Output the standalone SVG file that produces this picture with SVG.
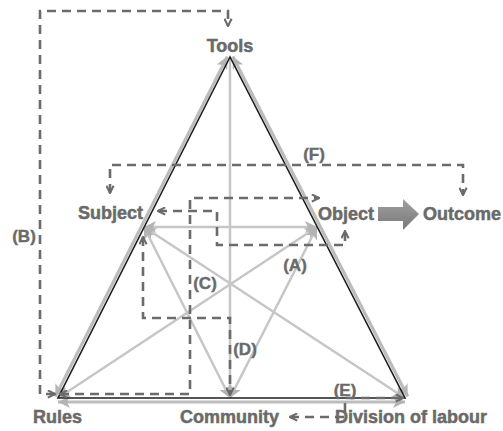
<svg xmlns="http://www.w3.org/2000/svg" width="503" height="431" viewBox="0 0 503 431">
<style>
.lbl{font-family:"Liberation Sans",Arial,sans-serif;font-weight:bold;font-size:18px;fill:#6a6a6a;stroke:#6a6a6a;stroke-width:0.5}
.tag{font-family:"Liberation Sans",Arial,sans-serif;font-weight:bold;font-size:17px;fill:#6a6a6a;stroke:#6a6a6a;stroke-width:0.4;text-anchor:middle}
.tri{stroke:#1e1e1e;stroke-width:1.6;fill:none}
.side{stroke:#bcbcbc;stroke-width:3.2;fill:none;marker-start:url(#ga);marker-end:url(#ga)}
.inner{stroke:#c6c6c6;stroke-width:2.5;fill:none}
.both{marker-start:url(#ga);marker-end:url(#ga)}
.dash{stroke:#6b6b6b;stroke-width:2.6;fill:none;stroke-dasharray:9 6;marker-start:url(#da);marker-end:url(#da)}
</style>
<defs>
<marker id="ga" viewBox="0 0 10 10" refX="10" refY="5" markerWidth="12" markerHeight="12" markerUnits="userSpaceOnUse" orient="auto-start-reverse"><path d="M0,0 L10,5 L0,10 L2.5,5 z" fill="#b4b4b4"/></marker>
<marker id="da" viewBox="0 0 10 10" refX="9" refY="5" markerWidth="9" markerHeight="9" markerUnits="userSpaceOnUse" orient="auto-start-reverse"><path d="M1,1 L9,5 L1,9" fill="none" stroke="#6b6b6b" stroke-width="2.3"/></marker>
<linearGradient id="og" x1="0" y1="0" x2="0" y2="1"><stop offset="0" stop-color="#a0a0a0"/><stop offset="1" stop-color="#787878"/></linearGradient>
</defs>
<g id="connectors">
<path class="side" d="M227.3,56.6 L55.3,396.6"/>
<path class="side" d="M232.7,56.6 L407.7,396.6"/>
<path class="side" d="M58,402 H405"/>
<path class="inner" d="M230,58 V398" marker-end="url(#ga)"/>
<path class="inner both" d="M144,227 H317"/>
<path class="inner both" d="M144,227 L230,398"/>
<path class="inner both" d="M144,227 L405,398"/>
<path class="inner both" d="M317,227 L58,398"/>
<path class="inner both" d="M317,227 L230,398"/>
<path class="tri" d="M230,57 L58,398 H405 Z"/>
<path class="dash" d="M55,394 H40 V11 H228 V26"/>
<path class="dash" d="M110,193 V165 H463 V195"/>
<path class="dash" d="M60,394 H190 V198 H319"/>
<path class="dash" d="M158,211 H217 V245 H345 V231"/>
<path class="dash" d="M143,237 V318 H230 V395"/>
<path class="dash" d="M290,417 H345 V398 H403"/>
<path d="M378,207 H403 V199 L419,214 L403,230 V221 H378 Z" fill="url(#og)"/>
<text class="tag" x="24" y="242">(B)</text>
<text class="tag" x="314" y="160">(F)</text>
<text class="tag" x="295" y="271">(A)</text>
<text class="tag" x="205" y="289">(C)</text>
<text class="tag" x="245" y="355">(D)</text>
<text class="tag" x="345" y="396">(E)</text>
</g>
<g id="tools"><text class="lbl" x="230" y="52" text-anchor="middle">Tools</text></g>
<g id="subject"><text class="lbl" x="78" y="219">Subject</text></g>
<g id="object"><text class="lbl" x="318" y="220">Object</text></g>
<g id="outcome"><text class="lbl" x="423" y="220">Outcome</text></g>
<g id="rules"><text class="lbl" x="33" y="423">Rules</text></g>
<g id="community"><text class="lbl" x="180" y="423">Community</text></g>
<g id="division"><text class="lbl" x="335" y="423">Division of labour</text></g>
</svg>
